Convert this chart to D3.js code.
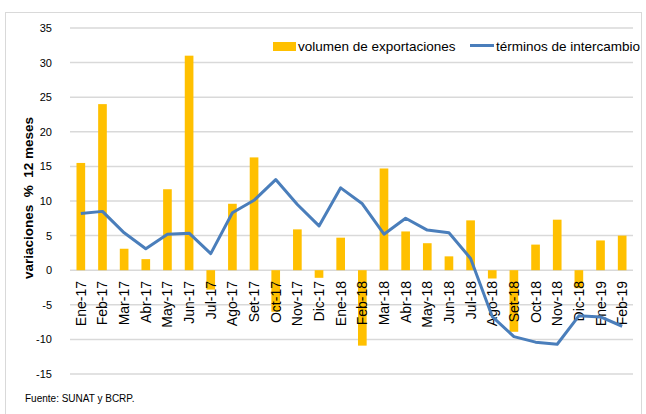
<!DOCTYPE html>
<html>
<head>
<meta charset="utf-8">
<script src="https://cdn.jsdelivr.net/npm/d3@7"></script>
<style>
  body { margin: 0; background: #fff; }
  text { font-family: "Liberation Sans", Arial, sans-serif; }
</style>
</head>
<body>
<div id="chart"></div>
<script>
const months = ["Ene-17","Feb-17","Mar-17","Abr-17","May-17","Jun-17","Jul-17","Ago-17","Set-17","Oct-17","Nov-17","Dic-17",
  "Ene-18","Feb-18","Mar-18","Abr-18","May-18","Jun-18","Jul-18","Ago-18","Set-18","Oct-18","Nov-18","Dic-18","Ene-19","Feb-19"];

// volumen de exportaciones (var % 12 meses)
const volumen = [15.5, 24.0, 3.1, 1.6, 11.7, 31.0, -2.8, 9.6, 16.3, -6.0, 5.9, -1.1,
  4.7, -10.9, 14.7, 5.6, 3.9, 2.0, 7.2, -1.2, -8.9, 3.7, 7.3, -2.6, 4.3, 5.0];

// términos de intercambio (var % 12 meses)
const terminos = [8.2, 8.5, 5.4, 3.1, 5.2, 5.35, 2.4, 8.3, 10.1, 13.1, 9.5, 6.4,
  11.9, 9.6, 5.2, 7.5, 5.8, 5.4, 1.7, -6.7, -9.6, -10.4, -10.7, -6.6, -6.75, -8.1];

const yTicks = [35, 30, 25, 20, 15, 10, 5, 0, -5, -10, -15];

const width = 646, height = 414;
const colorBar = "#ffc000";
const colorLine = "#4a7ebb";
const colorGrid = "#d9d9d9";

const svg = d3.select("#chart").append("svg")
  .attr("width", width)
  .attr("height", height);

// outer frame
svg.append("rect")
  .attr("x", 5.5).attr("y", 12.5)
  .attr("width", 636).attr("height", 420)
  .attr("fill", "none")
  .attr("stroke", "#d9d9d9")
  .attr("stroke-width", 1);

const x = d3.scaleBand()
  .domain(months)
  .range([70, 633])
  .paddingInner(0.6)
  .paddingOuter(0.3);

const y = d3.scaleLinear()
  .domain([-15, 35])
  .range([374, 28]);

const xc = d => x(d) + x.bandwidth() / 2;

// gridlines
svg.append("g")
  .selectAll("line")
  .data(yTicks)
  .join("line")
  .attr("x1", 70).attr("x2", 633)
  .attr("y1", d => y(d)).attr("y2", d => y(d))
  .attr("stroke", colorGrid)
  .attr("stroke-width", 1.5);

// y tick labels
svg.append("g")
  .selectAll("text")
  .data(yTicks)
  .join("text")
  .attr("x", 52)
  .attr("y", d => y(d) + 4)
  .attr("text-anchor", "end")
  .attr("font-size", 11)
  .attr("fill", "#000")
  .text(d => d);

// bars
svg.append("g")
  .selectAll("rect")
  .data(volumen)
  .join("rect")
  .attr("x", (d, i) => x(months[i]))
  .attr("width", x.bandwidth())
  .attr("y", d => y(Math.max(0, d)))
  .attr("height", d => Math.abs(y(d) - y(0)))
  .attr("fill", colorBar);

// x labels (over the bars)
svg.append("g")
  .selectAll("text")
  .data(months)
  .join("text")
  .attr("transform", d => `translate(${xc(d) + 5},281) rotate(-90)`)
  .attr("text-anchor", "end")
  .attr("font-size", 14)
  .attr("fill", "#000")
  .text(d => d);

// line
const line = d3.line()
  .x((d, i) => xc(months[i]))
  .y(d => y(d));

svg.append("path")
  .datum(terminos)
  .attr("d", line)
  .attr("fill", "none")
  .attr("stroke", colorLine)
  .attr("stroke-width", 3)
  .attr("stroke-linejoin", "round");

// y axis title
svg.append("text")
  .attr("transform", "translate(33,198) rotate(-90)")
  .attr("text-anchor", "middle")
  .attr("font-size", 13.5)
  .attr("font-weight", "bold")
  .style("white-space", "pre")
  .text("variaciones  %  12 meses");

// legend
const legend = svg.append("g");
legend.append("rect")
  .attr("x", 273).attr("y", 42)
  .attr("width", 23).attr("height", 9)
  .attr("fill", colorBar);
legend.append("text")
  .attr("x", 298).attr("y", 51)
  .attr("font-size", 13.5)
  .text("volumen de exportaciones");
legend.append("line")
  .attr("x1", 470).attr("x2", 494)
  .attr("y1", 45.5).attr("y2", 45.5)
  .attr("stroke", colorLine)
  .attr("stroke-width", 3);
legend.append("text")
  .attr("x", 496).attr("y", 51)
  .attr("font-size", 13.5)
  .text("términos de intercambio");

// source
svg.append("text")
  .attr("x", 25).attr("y", 402)
  .attr("font-size", 10)
  .text("Fuente: SUNAT y BCRP.");
</script>
</body>
</html>
